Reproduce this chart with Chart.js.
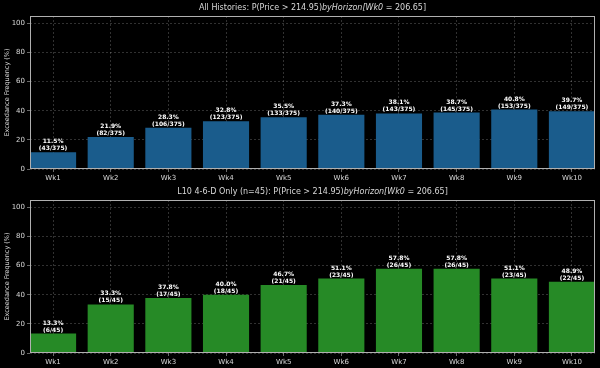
<!DOCTYPE html>
<html>
<head>
<meta charset="utf-8">
<script src="https://cdn.jsdelivr.net/npm/chart.js@4"></script>
<style>
  html, body { margin: 0; padding: 0; background: #000; }
  .panel { position: relative; width: 600px; height: 184px; }
</style>
</head>
<body>
<div class="panel"><canvas id="allChart"></canvas></div>
<div class="panel"><canvas id="l10Chart"></canvas></div>
<script>
// ---- data ----
const weeks = ["Wk1", "Wk2", "Wk3", "Wk4", "Wk5", "Wk6", "Wk7", "Wk8", "Wk9", "Wk10"];
const yTicks = [0, 20, 40, 60, 80, 100];

const allPct = [11.5, 21.9, 28.3, 32.8, 35.5, 37.3, 38.1, 38.7, 40.8, 39.7];
const allHits = [43, 82, 106, 123, 133, 140, 143, 145, 153, 149];
const allTotal = 375;

const l10Pct = [13.3, 33.3, 37.8, 40.0, 46.7, 51.1, 57.8, 57.8, 51.1, 48.9];
const l10Hits = [6, 15, 17, 18, 21, 23, 26, 26, 23, 22];
const l10Total = 45;

const FONT = "'DejaVu Sans', sans-serif";
const TEXT = "#d8d8d8";
const GRID = "rgba(255,255,255,0.32)";

/**
 * Helper: frame + title + value labels drawn on top of the chart
 */
function overlayPlugin(titlePlain, titleItalic, titleTail, hits, total) {
  return {
    id: "overlay",
    afterDraw(chart) {
      const { ctx, chartArea } = chart;
      ctx.save();

      // axes frame (all four spines)
      ctx.strokeStyle = "#b0b0b0";
      ctx.lineWidth = 1;
      ctx.strokeRect(chartArea.left + 0.5, chartArea.top + 0.5,
        chartArea.right - chartArea.left - 1, chartArea.bottom - chartArea.top - 1);

      // title with the mathtext-like italic part
      ctx.fillStyle = TEXT;
      ctx.textBaseline = "middle";
      ctx.textAlign = "left";
      const fNorm = `8px ${FONT}`;
      const fItal = `italic 8px ${FONT}`;
      ctx.font = fNorm;
      const w1 = ctx.measureText(titlePlain).width;
      const w3 = ctx.measureText(titleTail).width;
      ctx.font = fItal;
      const w2 = ctx.measureText(titleItalic).width;
      const cx = (chartArea.left + chartArea.right) / 2;
      let x = cx - (w1 + w2 + w3) / 2;
      const y = 8;
      ctx.font = fNorm;
      ctx.fillText(titlePlain, x, y);
      x += w1;
      ctx.font = fItal;
      ctx.fillText(titleItalic, x, y);
      x += w2;
      ctx.font = fNorm;
      ctx.fillText(titleTail, x, y);

      // value labels above each bar
      const meta = chart.getDatasetMeta(0);
      const values = chart.data.datasets[0].data;
      ctx.font = `bold 6px ${FONT}`;
      ctx.textAlign = "center";
      ctx.textBaseline = "alphabetic";
      ctx.fillStyle = "#ffffff";
      meta.data.forEach((bar, i) => {
        const pct = values[i].y.toFixed(1) + "%";
        ctx.fillText(pct, bar.x, bar.y - 9);
        ctx.fillText(`(${hits[i]}/${total})`, bar.x, bar.y - 2);
      });
      ctx.restore();
    },
  };
}

/**
 * Helper: config for one exceedance bar panel
 */
function buildConfig(pcts, hits, total, color, titlePlain, titleItalic, titleTail) {
  return {
    type: "bar",
    data: {
      datasets: [{
        data: pcts.map((v, i) => ({ x: i, y: v })),
        backgroundColor: color,
        borderWidth: 0,
        barPercentage: 0.8,
        categoryPercentage: 1.0,
      }],
    },
    options: {
      responsive: true,
      maintainAspectRatio: false,
      animation: false,
      layout: { padding: { top: 16, right: 5, left: 0, bottom: 0 } },
      plugins: { legend: { display: false }, tooltip: { enabled: false } },
      scales: {
        x: {
          type: "linear",
          min: -0.4,
          max: weeks.length - 0.6,
          offset: false,
          z: 1,
          afterBuildTicks: s => { s.ticks = weeks.map((_, i) => ({ value: i })); },
          afterFit: s => { s.height = 15; },
          ticks: {
            color: TEXT,
            font: { family: FONT, size: 7 },
            padding: 2,
            maxRotation: 0,
            callback: v => weeks[v],
          },
          grid: { offset: false, color: GRID, lineWidth: 0.6, tickLength: 3, tickColor: "#b0b0b0" },
          border: { display: false, dash: [2, 2] },
        },
        y: {
          min: 0,
          max: 105,
          z: 1,
          afterBuildTicks: s => { s.ticks = yTicks.map(v => ({ value: v })); },
          afterFit: s => { s.width = 30; },
          ticks: {
            color: TEXT,
            font: { family: FONT, size: 7 },
            padding: 2,
          },
          title: {
            display: true,
            text: "Exceedance Frequency (%)",
            color: TEXT,
            font: { family: FONT, size: 6.5 },
            padding: { top: 3, bottom: 0 },
          },
          grid: { color: GRID, lineWidth: 0.6, tickLength: 3, tickColor: "#b0b0b0" },
          border: { display: false, dash: [2, 2] },
        },
      },
    },
    plugins: [overlayPlugin(titlePlain, titleItalic, titleTail, hits, total)],
  };
}

new Chart(document.getElementById("allChart"), buildConfig(
  allPct, allHits, allTotal, "rgb(26,92,140)",
  "All Histories: P(Price > 214.95)", "byHorizon[Wk0", " = 206.65]"
));

new Chart(document.getElementById("l10Chart"), buildConfig(
  l10Pct, l10Hits, l10Total, "rgb(38,138,38)",
  "L10 4-6-D Only (n=45): P(Price > 214.95)", "byHorizon[Wk0", " = 206.65]"
));
</script>
</body>
</html>
